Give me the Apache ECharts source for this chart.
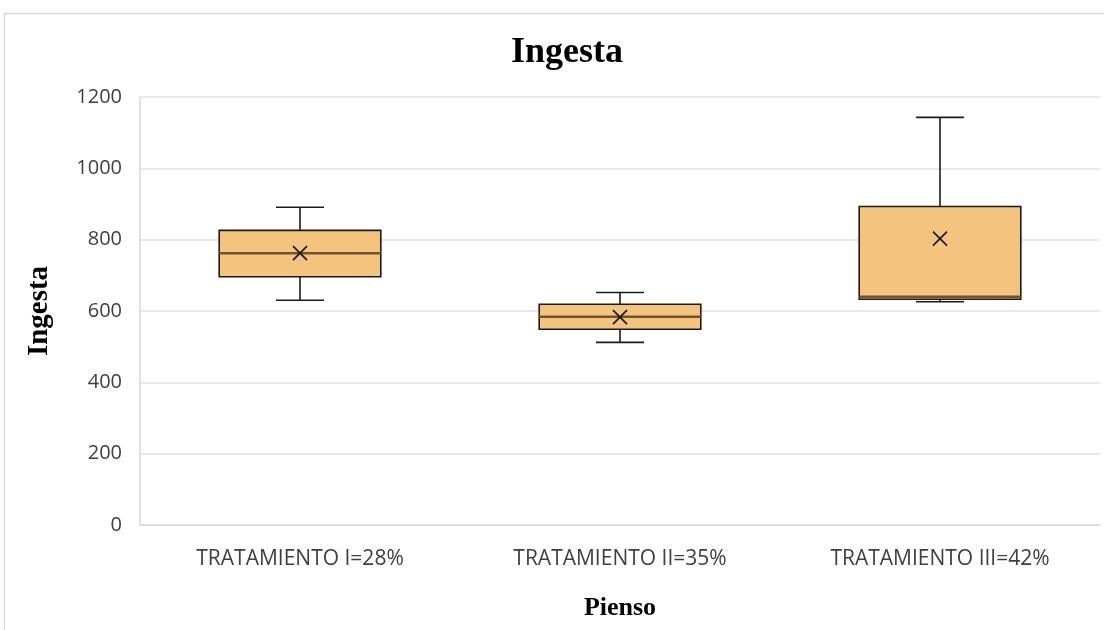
<!DOCTYPE html>
<html>
<head>
<meta charset="utf-8">
<title>Ingesta</title>
<script src="https://cdn.jsdelivr.net/npm/echarts@6/dist/echarts.min.js"></script>
<style>
  html, body { margin: 0; padding: 0; background: #ffffff; }
  #chart { width: 1104px; height: 630px; }
</style>
</head>
<body>
<div id="chart"></div>
<script>
// Treatment groups (feed protein level)
const categories = ['TRATAMIENTO I=28%', 'TRATAMIENTO II=35%', 'TRATAMIENTO III=42%'];
// Five-number summaries per group
const whiskerLow  = [630, 512, 626];
const q1          = [696, 549, 633];
const median      = [762, 584, 640];
const q3          = [826, 619, 893];
const whiskerHigh = [891, 652, 1143];
// Group means (drawn as an x marker)
const mean        = [762, 583, 803];
// Value axis ticks
const yMin = 0, yMax = 1200, yStep = 200;

const boxData = categories.map((c, i) => [i, whiskerLow[i], q1[i], median[i], q3[i], whiskerHigh[i], mean[i]]);

const chart = echarts.init(document.getElementById('chart'), null, { renderer: 'canvas' });

function renderBox(params, api) {
  const idx = api.value(0);
  const lo = api.coord([idx, api.value(1)]);
  const b1 = api.coord([idx, api.value(2)]);
  const md = api.coord([idx, api.value(3)]);
  const b3 = api.coord([idx, api.value(4)]);
  const hi = api.coord([idx, api.value(5)]);
  const mn = api.coord([idx, api.value(6)]);
  const band = api.size([1, 0])[0];
  const bw = band * 0.505;
  const cw = band * 0.15;
  const x = lo[0];
  const stroke = { stroke: '#1a1a1a', lineWidth: 1.6 };
  const m = 7;
  return {
    type: 'group',
    children: [
      { type: 'line', shape: { x1: x, y1: hi[1], x2: x, y2: b3[1] }, style: stroke },
      { type: 'line', shape: { x1: x, y1: lo[1], x2: x, y2: b1[1] }, style: stroke },
      { type: 'line', shape: { x1: x - cw / 2, y1: hi[1], x2: x + cw / 2, y2: hi[1] }, style: stroke },
      { type: 'line', shape: { x1: x - cw / 2, y1: lo[1], x2: x + cw / 2, y2: lo[1] }, style: stroke },
      { type: 'rect', shape: { x: x - bw / 2, y: b3[1], width: bw, height: b1[1] - b3[1] },
        style: { fill: '#f4c47f', stroke: '#1a1a1a', lineWidth: 1.6 } },
      { type: 'line', shape: { x1: x - bw / 2, y1: md[1], x2: x + bw / 2, y2: md[1] },
        style: { stroke: '#6e5432', lineWidth: 2.5 } },
      { type: 'line', shape: { x1: x - m, y1: mn[1] - m, x2: x + m, y2: mn[1] + m }, style: { stroke: '#1a1a1a', lineWidth: 1.8 } },
      { type: 'line', shape: { x1: x - m, y1: mn[1] + m, x2: x + m, y2: mn[1] - m }, style: { stroke: '#1a1a1a', lineWidth: 1.8 } }
    ]
  };
}

chart.setOption({
  backgroundColor: '#ffffff',
  animation: false,
  title: {
    text: 'Ingesta',
    left: 562,
    top: 30,
    textAlign: 'center',
    textStyle: { fontFamily: 'Liberation Serif', fontWeight: 'bold', fontSize: 36, color: '#000000' }
  },
  graphic: [
    { type: 'polyline', silent: true,
      shape: { points: [[4.5, 630], [4.5, 13.5], [1104, 13.5]] },
      style: { stroke: '#d9d9d9', lineWidth: 1.5, fill: null } }
  ],
  grid: { left: 140, right: 4, top: 97, bottom: 105, containLabel: false },
  xAxis: {
    type: 'category',
    data: categories,
    boundaryGap: true,
    name: 'Pienso',
    nameLocation: 'middle',
    nameGap: 70,
    nameTextStyle: { fontFamily: 'Liberation Serif', fontWeight: 'bold', fontSize: 26, color: '#000000' },
    axisLine: { show: true, lineStyle: { color: '#d9d9d9', width: 1.5 } },
    axisTick: { show: false },
    axisLabel: { margin: 24, fontFamily: 'Open Sans', fontSize: 21, color: '#404040' },
    splitLine: { show: false }
  },
  yAxis: {
    type: 'value',
    min: yMin, max: yMax, interval: yStep,
    name: 'Ingesta',
    nameLocation: 'middle',
    nameGap: 86,
    nameRotate: 90,
    nameTextStyle: { fontFamily: 'Liberation Serif', fontWeight: 'bold', fontSize: 29, color: '#000000' },
    axisLine: { show: true, lineStyle: { color: '#d9d9d9', width: 1.5 } },
    axisTick: { show: false },
    axisLabel: { margin: 18, fontFamily: 'Open Sans', fontSize: 20, color: '#404040',
      formatter: v => String(v) },
    splitLine: { show: true, lineStyle: { color: '#e0e0e0', width: 1.5 } }
  },
  series: [{
    type: 'custom',
    renderItem: renderBox,
    data: boxData,
    encode: { x: 0, y: [1, 2, 3, 4, 5, 6] },
    z: 10
  }]
});
</script>
</body>
</html>
